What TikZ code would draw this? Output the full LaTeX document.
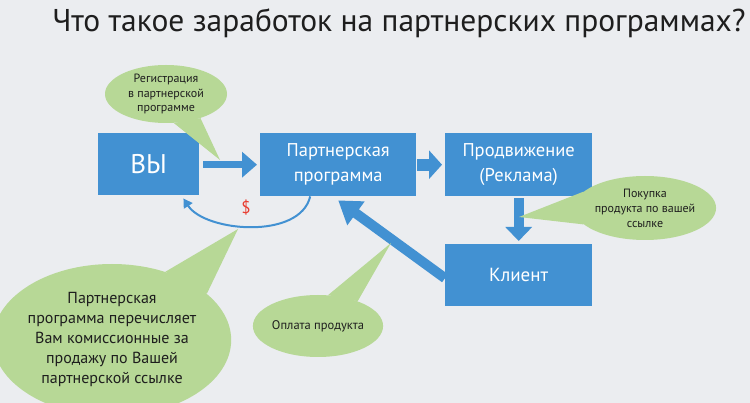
\documentclass[tikz,border=0pt]{standalone}
\usepackage{fontspec}
\setmainfont{PT Sans}
\usetikzlibrary{arrows.meta,shapes.geometric}
\definecolor{bg}{RGB}{235,237,240}
\definecolor{boxblue}{RGB}{66,145,210}
\definecolor{callgreen}{RGB}{183,216,150}
\definecolor{txt}{RGB}{30,30,30}
\definecolor{dollar}{RGB}{232,62,50}
\begin{document}
\begin{tikzpicture}[x=1pt,y=-1pt,
  bluebox/.style={fill=boxblue, text=white, align=center, inner sep=0pt, anchor=north west},
  callout/.style={ellipse, fill=callgreen, text=txt, align=center, inner sep=0pt},
  tailfill/.style={fill=callgreen},
  blockarrow/.style={draw=boxblue, line width=#1},
]
\fill[bg] (0,0) rectangle (750,403);
\useasboundingbox (0,0) rectangle (750,403);

% title
\node[text=txt, anchor=base, inner sep=0pt, font=\fontsize{31.5}{36}\selectfont] (title) at (399,32) {Что такое заработок на партнерских программах?};

% boxes
\node[bluebox, minimum width=101pt, minimum height=62pt, font=\fontsize{27}{30}\selectfont] (vy) at (98,133) {ВЫ};
\node[bluebox, minimum width=156pt, minimum height=63pt, font=\fontsize{18.5}{25}\selectfont] (pp) at (260,133) {Партнерская\\программа};
\node[bluebox, minimum width=147pt, minimum height=63pt, font=\fontsize{18.5}{25}\selectfont] (pr) at (445,133) {Продвижение\\(Реклама)};
\node[bluebox, minimum width=147pt, minimum height=62pt, font=\fontsize{19}{24}\selectfont] (kl) at (445,244) {Клиент};

% arrows
\draw[blockarrow=7pt, -{Triangle[width=25pt,length=15pt]}] ([xshift=4pt,yshift=-0.5pt]vy.east) -- ([xshift=-3pt,yshift=-0.5pt]vy.east -| pp.west);
\draw[blockarrow=12pt, -{Triangle[width=28pt,length=13pt]}] ([xshift=1pt]pp.east) -- ([xshift=-3pt]pr.west);
\draw[blockarrow=10pt, -{Triangle[width=26pt,length=14pt]}] ([yshift=-2pt]pr.south) -- ([yshift=3pt]kl.north);
\draw[blockarrow=10pt, -{Triangle[width=28pt,length=22pt]}] ([yshift=-3pt]kl.west) -- ([yshift=-4pt]pp.south);

% money curve
\draw[boxblue, line width=2pt, -{Triangle[width=10pt,length=9pt]}] ([xshift=-28pt]pp.south) .. controls (300,240) and (205,232) .. ([xshift=-16pt,yshift=-3pt]vy.south east);
\node[text=dollar, font=\fontsize{17}{20}\selectfont] (usd) at (246,208) {\$};

% callouts
\node[callout, minimum width=122pt, minimum height=58pt, font=\fontsize{12}{14.5}\selectfont] (reg) at (166,94) {Регистрация\\в партнерской\\программе};
\coordinate (regtip) at (220,160);
\fill[tailfill] (regtip) -- (reg.-75) -- (reg.-35) -- cycle;

\node[callout, minimum width=124pt, minimum height=64pt, font=\fontsize{12}{15}\selectfont] (pk) at (645,208) {Покупка\\продукта по вашей\\ссылке};
\coordinate (pktip) at (519,217);
\fill[tailfill] (pktip) -- (pk.165) -- (pk.195) -- cycle;

\node[callout, minimum width=117pt, minimum height=62pt, font=\fontsize{12.5}{14}\selectfont] (opl) at (318,326) {Оплата продукта};
\coordinate (opltip) at (391,243);
\fill[tailfill] (opltip) -- (opl.72) -- (opl.32) -- cycle;

\node[callout, minimum width=204pt, minimum height=152pt, font=\fontsize{16}{20}\selectfont] (big) at (112,340) {Партнерская\\программа перечисляет\\Вам комиссионные за\\продажу по Вашей\\партнерской ссылке};
\coordinate (bigtip) at (238,229);
\fill[tailfill] (bigtip) -- (big.52) -- (big.26) -- cycle;
\end{tikzpicture}
\end{document}
